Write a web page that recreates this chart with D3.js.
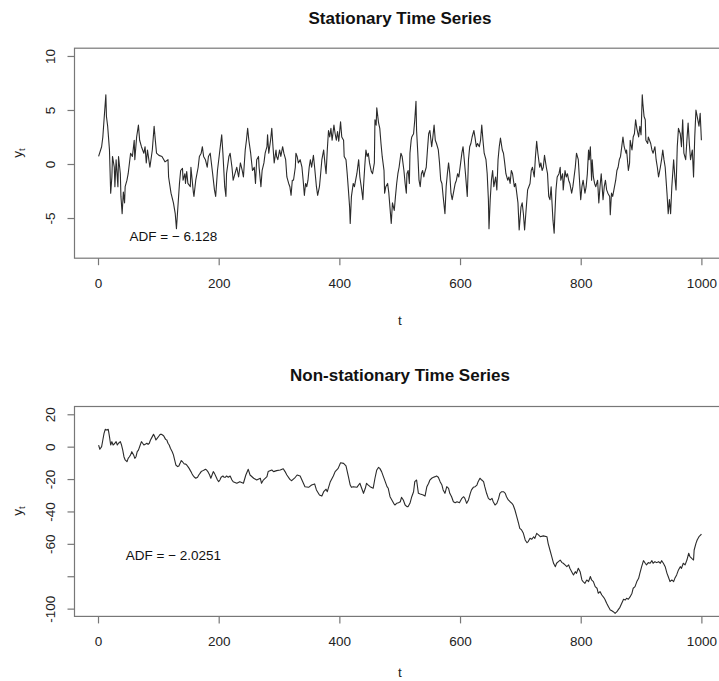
<!DOCTYPE html>
<html>
<head>
<meta charset="utf-8">
<script src="https://cdn.jsdelivr.net/npm/d3@7"></script>
<style>
  body { margin: 0; background: #fff; }
  svg { display: block; font-family: "Liberation Sans", Arial, Helvetica, sans-serif; }
</style>
</head>
<body>
<script>
// values (t, y pairs)
const statT = [1,6,8,10,13,14,16,19,21,23,24,27,28,30,33,34,37,38,40,42,44,45,48,50,54,57,60,61,64,67,69,72,76,78,80,82,86,90,93,95,97,101,106,111,116,117,121,125,128,130,132,135,137,140,141,144,145,147,149,153,154,158,159,162,166,168,171,173,175,178,181,183,186,190,193,195,198,202,205,207,210,212,213,217,
  219,222,224,227,230,233,236,239,241,244,246,248,250,253,256,259,261,263,266,267,270,272,275,277,280,281,283,286,288,290,292,295,296,298,301,303,306,308,311,313,316,318,320,322,324,327,328,330,332,335,338,340,342,344,346,348,350,352,354,357,359,362,364,367,369,371,374,376,378,380,382,384,386,388,391,393,395,397,399,402,404,407,408,411,413,415,417,418,420,423,425,427,429,432,434,437,439,440,442,444,446,448,450,453,455,458,459,461,462,465,467,469,471,474,475,477,480,482,
  486,488,491,493,495,497,499,502,504,507,509,511,512,514,516,517,519,520,523,525,527,528,530,532,534,536,538,540,541,544,546,548,550,553,555,557,559,561,564,566,568,570,572,575,577,579,581,583,585,587,590,592,594,596,598,601,603,605,607,609,612,614,616,618,620,623,625,627,629,632,634,636,638,640,643,645,647,648,650,652,654,656,659,661,663,665,667,670,672,674,676,679,681,683,685,687,690,692,694,696,698,701,703,705,707,709,712,714,716,718,720,723,725,727,729,732,734,736,738,740,743,745,747,749,751,754,756,
  757,759,761,764,766,767,770,771,774,776,778,780,782,785,787,789,791,793,796,798,800,802,804,807,809,811,813,814,816,818,819,821,823,825,828,830,832,834,837,839,841,843,845,848,849,851,853,855,858,860,862,864,866,868,870,872,875,876,879,881,882,885,887,889,891,893,896,898,900,902,903,905,907,908,911,912,914,916,918,920,923,925,927,929,932,934,936,938,940,943,945,947,949,951,954,956,958,960,962,965,967,969,971,974,976,978,980,982,985,987,989,991,993,996,998,1000];
const statY = [0.7,1.6,2.5,4.1,6.4,4.4,3.5,1.3,-2.7,-1.2,0.7,-0.3,-2.1,0.4,-2.1,0.7,-0.9,-3.0,-4.6,-2.6,-3.6,-2.1,-1.5,-0.9,1.0,0.7,2.2,0.4,2.5,3.6,2.2,1.6,1.0,1.6,0.1,1.3,-0.3,1.3,3.5,2.2,1.0,0.8,0.7,0.2,0.4,-1.2,-2.7,-3.6,-4.6,-6.0,-4.3,-1.8,-0.6,-0.4,-1.5,-0.9,-1.8,-0.7,-1.8,-2.1,-0.3,-2.6,-3.0,-1.5,-0.3,0.7,1.0,1.6,0.7,0.4,-0.3,0.7,1.0,-0.9,-2.4,-3.0,-0.6,1.3,2.7,1.0,-2.1,-3.0,-0.9,0.7,
  1.0,-0.3,-1.5,-0.9,-0.3,-1.2,0.1,-0.6,-1.2,1.3,2.2,3.3,2.2,1.0,-0.6,-0.3,-1.8,0.4,0.7,-0.3,-2.1,-0.6,0.1,1.0,1.6,2.7,1.0,2.2,3.3,1.6,0.1,1.3,0.7,0.4,1.3,0.7,1.6,1.0,0.4,-1.2,-1.8,-2.1,-2.9,-1.5,-1.5,-0.3,1.0,0.7,0.1,0.4,-0.3,-1.5,-2.9,-1.8,-2.1,-1.5,-0.3,0.4,-0.3,0.8,-0.3,-2.1,-2.9,-2.1,-0.9,0.4,1.3,0.1,-0.9,1.3,3.1,2.5,3.3,2.2,3.6,2.8,2.2,3.0,2.1,3.9,2.5,2.2,0.7,0.4,-0.9,-2.4,-4.0,-5.5,-3.0,-1.8,-2.1,-1.5,-0.9,0.4,-1.2,-2.4,-3.3,-2.1,-0.3,1.3,0.7,1.0,0.1,-0.7,-0.9,0.1,4.1,3.6,5.2,3.8,3.3,1.9,0.7,-0.6,-2.7,-2.1,-1.8,-2.7,
  -5.5,-3.6,-4.3,-3.0,-1.8,-0.9,-0.3,1.0,0.7,-0.6,-1.8,-2.7,-0.9,-0.6,-1.8,1.0,2.2,2.5,2.8,4.1,5.8,3.1,1.0,-1.5,-2.1,-0.9,-0.6,-1.2,-0.9,-0.3,1.3,2.8,3.1,1.6,2.5,3.6,2.2,1.9,1.3,0.1,-1.5,-1.8,-3.0,-4.6,-2.1,-0.9,0.1,-0.9,-2.7,-3.3,-2.4,-1.8,-1.5,-0.9,-1.2,0.1,1.0,1.6,0.4,-0.9,-3.0,0.4,1.6,1.9,2.5,3.1,2.4,1.6,1.9,1.6,2.2,3.6,2.2,1.0,0.4,-0.9,-3.3,-6.0,-3.3,-1.5,-0.6,-2.1,-1.2,-2.4,0.4,1.6,2.4,1.3,1.0,0.1,-0.9,-1.5,-1.2,-1.8,-0.6,-0.9,-2.1,-1.8,-2.7,-3.6,-6.1,-4.0,-3.6,-4.6,-6.1,-4.6,-2.4,-2.1,-1.8,-0.6,-0.3,-1.2,0.7,2.1,1.0,-0.3,0.1,-0.6,-0.3,0.8,-0.3,-0.9,-3.0,-3.3,-2.1,-5.2,-6.4,
  -4.9,-2.4,-1.2,-0.9,-0.3,-1.5,-0.9,-2.4,-0.6,-1.2,-0.9,-1.5,-1.8,-2.7,-2.1,-1.2,-0.3,1.0,0.4,-1.5,-3.3,-2.1,-1.5,-2.7,-2.1,-0.9,1.3,0.4,1.6,-1.5,0.4,-1.2,-1.8,-2.1,-1.5,-3.6,-2.1,-0.9,-3.3,-2.1,-1.5,-2.4,-2.7,-3.0,-4.7,-2.7,-3.0,-2.4,-1.5,-0.6,-0.3,0.4,0.7,1.6,2.5,1.6,1.0,1.3,-0.6,0.1,2.2,1.3,2.5,2.8,4.1,3.3,2.5,3.5,2.7,6.4,5.6,4.4,4.1,2.2,1.9,2.5,2.2,1.9,1.3,1.0,1.6,0.4,-0.3,-1.2,-0.3,0.4,1.3,0.4,-0.3,-2.7,-4.6,-3.3,-4.6,-2.1,0.4,-1.2,-2.4,1.6,3.3,2.8,1.6,4.1,1.0,0.4,2.2,3.8,1.9,0.4,1.3,-1.2,2.5,5.0,4.4,3.5,4.7,2.2];

const walkT = [1,3,6,8,10,12,14,17,19,21,23,25,28,30,32,34,37,39,41,43,45,48,50,52,54,56,59,61,63,65,67,70,72,74,76,79,81,83,85,87,90,92,94,96,98,101,103,105,107,109,112,114,116,118,120,123,125,127,129,132,134,136,138,140,143,145,147,149,151,154,156,158,160,162,165,167,169,171,174,176,178,180,182,185,187,189,191,193,196,198,200,202,204,207,209,211,213,216,219,
  222,224,230,235,241,245,249,252,258,263,269,271,274,280,282,288,291,296,302,307,310,313,318,321,327,330,335,338,343,349,354,359,362,367,371,374,378,380,385,390,393,398,402,407,411,415,418,420,423,429,434,437,440,443,445,448,451,456,459,462,465,
  467,470,473,476,479,481,484,487,490,492,495,498,501,503,506,509,512,514,517,520,523,525,528,531,534,539,542,545,548,550,553,556,559,561,564,567,570,572,575,578,581,583,586,589,592,595,599,603,606,608,611,614,617,619,622,625,628,630,633,636,639,641,644,647,650,653,655,658,661,664,666,669,672,675,677,680,683,686,688,691,694,697,699,702,705,708,711,713,716,719,722,724,727,730,733,
  738,744,746,749,752,755,758,760,763,766,769,771,774,777,780,782,785,788,791,793,796,799,802,804,807,810,813,816,818,821,824,827,829,832,835,838,840,843,846,849,851,854,857,860,862,865,868,871,874,876,879,882,885,887,890,893,896,898,901,904,907,909,912,915,918,920,923,926,929,932,934,937,940,943,945,948,951,954,956,959,962,965,967,970,973,976,979,981,984,987,988,991,993,996,999,1000];
const walkY = [1.0,-1.6,0.0,4.1,8.2,10.7,10.3,10.7,6.2,1.0,3.1,1.0,2.1,3.1,1.0,2.1,3.1,1.0,-2.1,-6.2,-8.2,-9.3,-7.2,-6.2,-5.1,-3.1,-5.1,-7.2,-6.2,-3.1,-2.1,1.0,3.1,2.1,1.0,1.6,2.1,1.4,2.1,4.1,6.2,7.6,6.2,4.1,5.1,6.6,7.6,7.6,7.2,6.6,4.5,4.1,2.1,1.0,-1.0,-3.1,-5.1,-8.2,-11.3,-12.3,-11.9,-10.3,-8.6,-9.3,-10.7,-10.7,-11.3,-12.3,-13.4,-15.4,-16.9,-18.1,-18.9,-19.5,-18.9,-17.5,-16.5,-15.4,-14.8,-14.4,-14.0,-14.4,-15.4,-17.5,-19.5,-17.5,-15.4,-16.5,-18.9,-20.6,-21.6,-20.6,-18.9,-18.1,-18.9,-18.9,-18.1,-18.9,-18.1,
  -20.6,-21.6,-22.6,-21.6,-22.6,-17.5,-14.0,-17.5,-19.5,-20.6,-19.5,-22.6,-20.6,-18.5,-15.4,-14.4,-15.4,-14.8,-14.4,-13.6,-15.4,-17.5,-20.2,-21.0,-18.9,-17.5,-18.1,-20.6,-24.7,-25.1,-23.7,-23.0,-26.7,-29.8,-30.5,-27.8,-26.3,-27.8,-21.6,-18.1,-15.4,-13.4,-9.9,-10.3,-11.9,-18.5,-23.7,-25.1,-24.7,-25.1,-22.6,-25.7,-28.8,-25.7,-22.6,-23.7,-24.7,-25.7,-19.5,-14.4,-12.8,
  -13.4,-15.4,-18.5,-21.6,-24.7,-25.7,-30.9,-32.9,-35.0,-36.0,-35.0,-34.6,-34.0,-31.3,-32.9,-36.0,-37.0,-37.0,-35.0,-30.9,-27.8,-21.6,-20.6,-28.8,-29.2,-29.8,-30.5,-24.7,-22.6,-20.6,-19.5,-18.9,-18.5,-18.1,-18.9,-21.6,-23.7,-26.7,-28.8,-24.7,-25.7,-28.8,-30.9,-34.0,-34.6,-34.0,-34.6,-31.9,-30.9,-31.9,-35.0,-32.9,-28.8,-26.7,-25.1,-24.7,-23.7,-21.6,-19.5,-20.6,-21.6,-24.7,-28.8,-31.9,-32.9,-31.9,-34.0,-36.0,-35.0,-31.9,-28.8,-27.8,-27.8,-28.8,-30.9,-32.9,-34.0,-35.0,-36.0,-39.1,-43.2,-47.3,-50.4,-51.4,-53.5,-57.6,-59.3,-58.6,-56.6,-57.2,-55.6,-56.6,-53.5,-54.5,-55.6,
  -55.1,-55.6,-59.7,-63.8,-67.9,-72.0,-74.1,-72.0,-71.0,-70.0,-71.6,-72.0,-73.0,-74.1,-73.0,-75.1,-77.2,-79.2,-77.2,-78.2,-75.1,-77.2,-82.3,-83.3,-84.4,-82.3,-83.3,-80.2,-82.3,-83.3,-86.4,-87.4,-90.5,-89.5,-91.6,-93.0,-94.2,-96.7,-98.8,-100.8,-101.2,-101.9,-102.9,-101.9,-100.8,-99.2,-96.7,-94.2,-94.7,-93.6,-94.2,-92.6,-90.5,-87.4,-86.4,-83.3,-81.3,-78.2,-74.1,-70.4,-72.0,-73.0,-71.6,-72.0,-70.4,-72.0,-71.0,-71.6,-71.0,-72.0,-70.4,-72.0,-74.1,-78.2,-80.2,-83.3,-82.3,-83.3,-81.3,-79.2,-76.1,-74.1,-75.1,-72.0,-73.0,-70.0,-65.8,-67.9,-69.0,-70.0,-63.8,-59.7,-57.6,-55.6,-54.5,-53.9];

const xTicks = [0, 200, 400, 600, 800, 1000];
const statTicks = [-5, 0, 5, 10];
const walkTicks = [-100, -80, -60, -40, -20, 0, 20];
const walkTickLabels = ["-100", "", "-60", "-40", "-20", "0", "20"];
const titles = ["Stationary Time Series", "Non-stationary Time Series"];
const adfLabels = ["ADF = \u2212 6.128", "ADF = \u2212 2.0251"];
const adfPos = [[125, -6.7], [125, -67]];

const W = 719, H = 681;
const left = 74.5, right = 725.5;

const svg = d3.select("body").append("svg")
    .attr("width", W)
    .attr("height", H);

svg.append("rect").attr("width", W).attr("height", H).attr("fill", "#fff");

const x = d3.scaleLinear().domain([-38.96, 1039.96]).range([left, right]);

const panels = [
  { T: statT, Y: statY, yDom: [-8.72, 10.72], top: 48.2, bottom: 258.2, ticks: statTicks,
    labels: statTicks.map(String), titleY: 24, xlabY: 325, ylabY: 153 },
  { T: walkT, Y: walkY, yDom: [-104.8, 24.8], top: 406.5, bottom: 616.4, ticks: walkTicks,
    labels: walkTickLabels, titleY: 381, xlabY: 677, ylabY: 511 }
];

panels.forEach((p, k) => {
    const y = d3.scaleLinear().domain(p.yDom).range([p.bottom, p.top]);

    // title
    svg.append("text")
        .attr("x", (left + right) / 2)
        .attr("y", p.titleY)
        .attr("text-anchor", "middle")
        .style("font-size", "17px")
        .style("font-weight", "bold")
        .attr("fill", "#111")
        .text(titles[k]);

    // series line
    const pts = p.T.map((t, i) => [t, p.Y[i]]);
    const line = d3.line().x(d => x(d[0])).y(d => y(d[1]));
    svg.append("path")
        .datum(pts)
        .attr("d", line)
        .attr("fill", "none")
        .attr("stroke", "#2b2b2b")
        .attr("stroke-width", 1.1)
        .attr("stroke-linejoin", "round");

    // plot box
    svg.append("rect")
        .attr("x", left).attr("y", p.top)
        .attr("width", right - left).attr("height", p.bottom - p.top)
        .attr("fill", "none")
        .attr("stroke", "#777")
        .attr("stroke-width", 1.2);

    // x axis
    const gx = svg.append("g")
        .attr("transform", "translate(0," + p.bottom + ")")
        .call(d3.axisBottom(x).tickValues(xTicks).tickFormat(d3.format("d"))
            .tickSize(7).tickSizeOuter(0).tickPadding(13.5));
    gx.select(".domain").remove();
    gx.selectAll("line").attr("stroke", "#777").attr("stroke-width", 1.2);
    gx.selectAll("text").style("font-size", "13.5px").attr("fill", "#222");

    // y axis
    const gy = svg.append("g")
        .attr("transform", "translate(" + left + ",0)")
        .call(d3.axisLeft(y).tickValues(p.ticks).tickSize(7).tickSizeOuter(0)
            .tickFormat((d, i) => p.labels[i]));
    gy.select(".domain").remove();
    gy.selectAll("line").attr("stroke", "#777").attr("stroke-width", 1.2);
    gy.selectAll("text")
        .attr("transform", "rotate(-90)")
        .attr("x", 0)
        .attr("y", -19.5)
        .attr("dy", null)
        .attr("text-anchor", "middle")
        .style("font-size", "13.5px")
        .attr("fill", "#222");

    // axis titles
    svg.append("text")
        .attr("x", (left + right) / 2)
        .attr("y", p.xlabY)
        .attr("text-anchor", "middle")
        .style("font-size", "13.5px")
        .attr("fill", "#222")
        .text("t");

    const yl = svg.append("text")
        .attr("transform", "translate(22," + p.ylabY + ") rotate(-90)")
        .attr("text-anchor", "middle")
        .style("font-size", "13.5px")
        .attr("fill", "#222");
    yl.append("tspan").text("y");
    yl.append("tspan").attr("dy", 3).style("font-size", "9.5px").text("t");

    // ADF annotation
    svg.append("text")
        .attr("x", x(adfPos[k][0]))
        .attr("y", y(adfPos[k][1]))
        .attr("dy", "0.35em")
        .attr("text-anchor", "middle")
        .style("font-size", "13.5px")
        .attr("fill", "#111")
        .text(adfLabels[k]);
});
</script>
</body>
</html>
